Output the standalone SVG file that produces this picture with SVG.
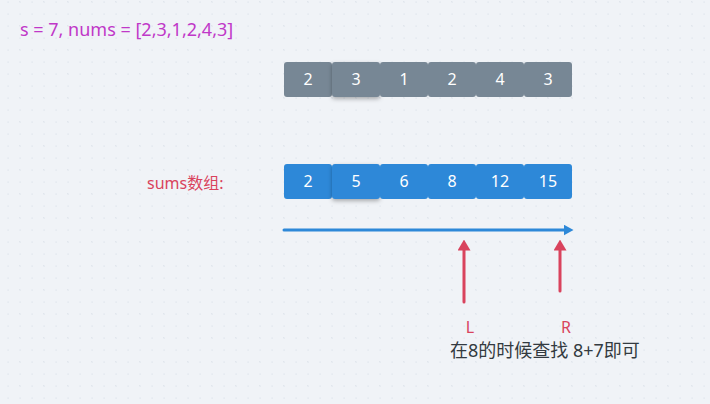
<svg xmlns="http://www.w3.org/2000/svg" width="710" height="404" viewBox="0 0 710 404">
<defs>
<pattern id="minor" x="2" y="-4" width="12" height="12" patternUnits="userSpaceOnUse">
<rect x="5.5" y="5.5" width="1.2" height="1.2" fill="#dce2e9"/>
</pattern>
<pattern id="major" x="-4" y="-22" width="24" height="24" patternUnits="userSpaceOnUse">
<rect x="23.5" y="23.5" width="1.4" height="1.4" fill="#c1c9d3"/>
</pattern>
<filter id="sh" x="-20%" y="-20%" width="140%" height="160%">
<feDropShadow dx="0" dy="2" stdDeviation="2" flood-color="#000" flood-opacity="0.3"/>
</filter>
<marker id="ab" viewBox="0 0 10 10" refX="0.5" refY="5" markerWidth="10" markerHeight="11" orient="auto" markerUnits="userSpaceOnUse" preserveAspectRatio="none">
<path d="M0,0 L10,5 L0,10 Z" fill="#2d88d8"/>
</marker>
<marker id="ar" viewBox="0 0 10 10" refX="0.5" refY="5" markerWidth="11" markerHeight="13" orient="auto" markerUnits="userSpaceOnUse" preserveAspectRatio="none">
<path d="M0,0 L10,5 L0,10 Z" fill="#d9435d"/>
</marker>
</defs>
<style>
.t{font-family:"Noto Sans","Noto Sans CJK SC",sans-serif;}
.num{font-family:"Noto Sans",sans-serif;font-size:16px;fill:#fff;text-anchor:middle;}
.g{fill:#778795;}
.b{fill:#2d88d8;}
.cb{stroke:#2d88d8;stroke-width:3;fill:none;stroke-linecap:round;marker-end:url(#ab);}
.cr{stroke:#d9435d;stroke-width:3;fill:none;stroke-linecap:round;marker-end:url(#ar);}
</style>
<rect width="710" height="404" fill="#f0f3f7"/>
<rect width="710" height="404" fill="url(#minor)"/>
<rect width="710" height="404" fill="url(#major)"/>
<text class="t" x="20" y="36" font-size="18" fill="#c038c8">s = 7, nums = [2,3,1,2,4,3]</text>
<g id="nums">
<g id="n0"><rect class="g" x="284" y="62" width="48" height="35" rx="3"/><text class="num" x="308" y="85">2</text></g>
<g id="n1"><rect class="g" x="332" y="62" width="48" height="35" rx="3" filter="url(#sh)"/><text class="num" x="356" y="85">3</text></g>
<g id="n2"><rect class="g" x="380" y="62" width="48" height="35" rx="3"/><text class="num" x="404" y="85">1</text></g>
<g id="n3"><rect class="g" x="428" y="62" width="48" height="35" rx="3"/><text class="num" x="452" y="85">2</text></g>
<g id="n4"><rect class="g" x="476" y="62" width="48" height="35" rx="3"/><text class="num" x="500" y="85">4</text></g>
<g id="n5"><rect class="g" x="524" y="62" width="48" height="35" rx="3"/><text class="num" x="548" y="85">3</text></g>
</g>
<text class="t" x="147" y="189" font-size="16" fill="#d9435d">sums数组:</text>
<g id="sums">
<g id="s0"><rect class="b" x="284" y="164" width="48" height="35" rx="3"/><text class="num" x="308" y="187">2</text></g>
<g id="s1"><rect class="b" x="332" y="164" width="48" height="35" rx="3" filter="url(#sh)"/><text class="num" x="356" y="187">5</text></g>
<g id="s2"><rect class="b" x="380" y="164" width="48" height="35" rx="3"/><text class="num" x="404" y="187">6</text></g>
<g id="s3"><rect class="b" x="428" y="164" width="48" height="35" rx="3"/><text class="num" x="452" y="187">8</text></g>
<g id="s4"><rect class="b" x="476" y="164" width="48" height="35" rx="3"/><text class="num" x="500" y="187">12</text></g>
<g id="s5"><rect class="b" x="524" y="164" width="48" height="35" rx="3"/><text class="num" x="548" y="187">15</text></g>
</g>
<g id="connectors">
<path class="cb" d="M284,230 H564"/>
<path class="cr" d="M464,302 V250"/>
<path class="cr" d="M560,291 V250"/>
</g>
<text class="t" x="470" y="333" font-size="16" fill="#d9435d" text-anchor="middle">L</text>
<text class="t" x="566" y="333" font-size="16" fill="#d9435d" text-anchor="middle">R</text>
<text class="t" x="450" y="357" font-size="18" fill="#333a40">在8的时候查找 8+7即可</text>
</svg>
